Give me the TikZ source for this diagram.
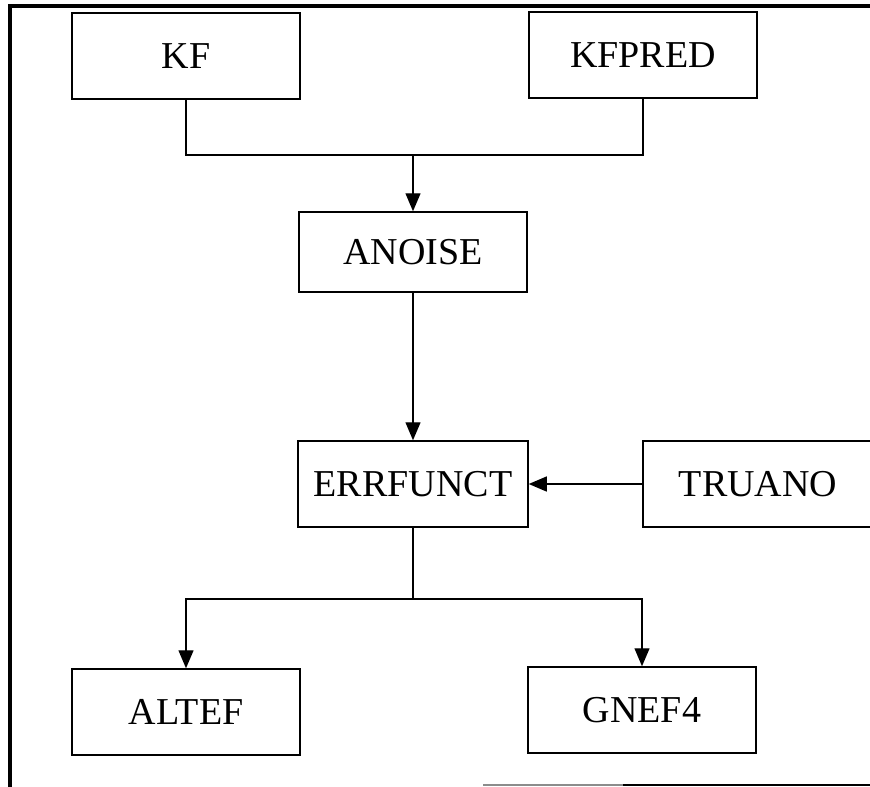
\documentclass[tikz,border=0pt]{standalone}
\usepackage{fontspec}
\setmainfont{Liberation Serif}
\usetikzlibrary{arrows.meta}

\newlength{\du}
\setlength{\du}{1pt}

\tikzset{
  modbox/.style={draw, line width=1.5\du, minimum width=228\du, minimum height=86\du,
    inner sep=0pt, font=\fontsize{38}{40}\selectfont},
  link/.style={line width=1.3\du},
  flow/.style={link, -{Triangle[length=18pt, width=15pt]}},
  frame/.style={line width=3.5\du}
}

\begin{document}
\begin{tikzpicture}[x=1\du, y=-1\du]
\useasboundingbox (0,0) rectangle (870,787);
\clip (0,0) rectangle (870,787);
% outer frame (open on the right)
\draw[frame] (870,6) -- (10,6) -- (10,787);
\draw[frame, black!45, line width=2\du] (483,785) -- (623,785);
\draw[frame, line width=2.5\du] (623,785) -- (870,785);
% routines
\node[modbox] (kf) at (186,56) {KF};
\node[modbox] (kfpred) at (643,55) {KFPRED};
\node[modbox, minimum height=80\du] (anoise) at (413,252) {ANOISE};
\node[modbox, minimum width=230\du] (errf) at (413,484) {ERRFUNCT};
\node[modbox, minimum width=230\du] (truano) at (758,484) {TRUANO};
\node[modbox] (altef) at (186,712) {ALTEF};
\node[modbox] (gnef) at (642,710) {GNEF4};
% junctions
\coordinate (jtop) at (413,155);
\coordinate (jbot) at (413,599);
% calls
\draw[link] (kf.south) |- (jtop) -| (kfpred.south);
\draw[flow] (jtop) -- (anoise.north);
\draw[flow] (anoise.south) -- (errf.north);
\draw[flow] (truano.west) -- (errf.east);
\draw[link] (errf.south) -- (jbot);
\draw[flow] (jbot) -| (altef.north);
\draw[flow] (jbot) -| (gnef.north);
\end{tikzpicture}
\end{document}
